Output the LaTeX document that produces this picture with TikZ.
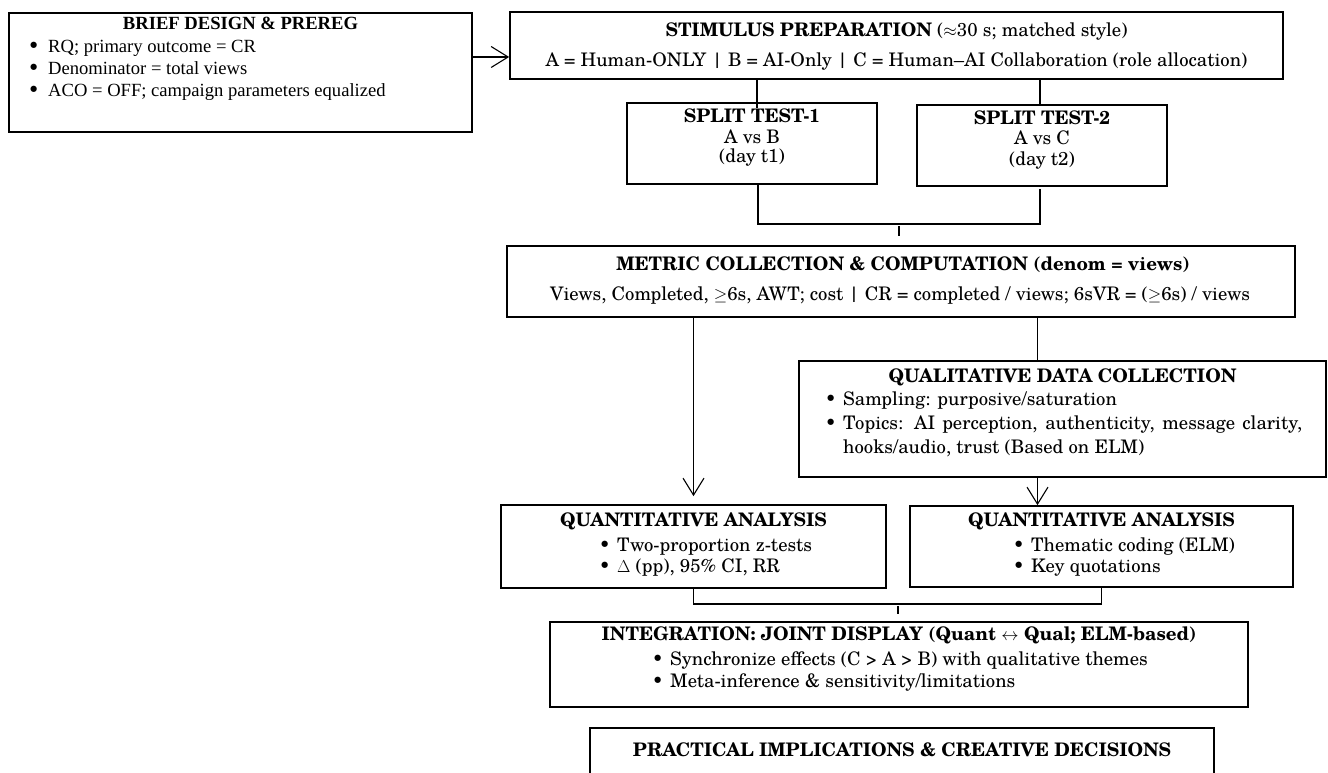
\documentclass[tikz,border=0pt]{standalone}
\usepackage{fontspec}
\setmainfont{texgyreschola}[Extension=.otf, UprightFont=*-regular, BoldFont=*-bold, ItalicFont=*-italic, BoldItalicFont=*-bolditalic]
\newfontfamily\timesf{Liberation Serif}
\usetikzlibrary{arrows.meta}
\newcommand{\mybul}{\makebox[18pt][l]{\textbullet}}
\newcommand{\tmbul}{\makebox[20pt][l]{\rmfamily\textbullet}}
\begin{document}
\begin{tikzpicture}[x=1pt,y=-1pt,
  box/.style={draw=black, line width=1.7pt, inner sep=0pt, minimum width=#1},
  txt/.style={inner sep=0pt, font=\fontsize{18.67}{22}\selectfont},
  tms/.style={inner sep=0pt, font=\timesf\fontsize{18.6}{22}\selectfont},
  conn/.style={draw=black, line width=1.1pt},
  arr/.style={conn, -{Straight Barb[length=17pt,width=21pt]}}]
\useasboundingbox (0,0) rectangle (1328,773);
\fill[white] (0,0) rectangle (1328,773);
\begin{scope}
\clip (0,0) rectangle (1328,773);
% boxes
\node[box=463pt, minimum height=119pt] (brief) at (240.5,72.5) {};
\node[box=773pt, minimum height=67pt] (stim) at (896.5,45.5) {};
\node[box=250pt, minimum height=81pt] (split1) at (752,143.5) {};
\node[box=250pt, minimum height=81pt] (split2) at (1042,145.5) {};
\node[box=788pt, minimum height=71pt] (metric) at (901,281.5) {};
\node[box=527pt, minimum height=116pt] (qual) at (1062.5,419) {};
\node[box=385pt, minimum height=83pt] (quantL) at (693.5,546.5) {};
\node[box=383pt, minimum height=81pt] (quantR) at (1101.5,546.5) {};
\node[box=698pt, minimum height=85pt] (integ) at (899,664.5) {};
\node[box=624pt, minimum height=72pt] (pract) at (902,764) {};
% texts
\node[tms, anchor=base] (b0) at (240.5,30) {\bfseries BRIEF DESIGN \& PREREG};
\node[tms, anchor=base west] (b1) at (28,53) {\tmbul RQ; primary outcome = CR};
\node[tms, anchor=base west] (b2) at (28,75) {\tmbul Denominator = total views};
\node[tms, anchor=base west] (b3) at (28,97) {\tmbul ACO = OFF; campaign parameters equalized};
\node[txt, anchor=base] (s0) at (896.5,37) {\textbf{STIMULUS PREPARATION} ($\approx$30 s; matched style)};
\node[txt, anchor=base] (s1) at (896.5,67) {A = Human-ONLY | B = AI-Only | C = Human--AI Collaboration (role allocation)};
\node[txt, anchor=base] (sp1a) at (752,123) {\textbf{SPLIT TEST-1}};
\node[txt, anchor=base] (sp1b) at (752,143) {A vs B};
\node[txt, anchor=base] (sp1c) at (752,163) {(day t1)};
\node[txt, anchor=base] (sp2a) at (1042,125) {\textbf{SPLIT TEST-2}};
\node[txt, anchor=base] (sp2b) at (1042,145) {A vs C};
\node[txt, anchor=base] (sp2c) at (1042,165) {(day t2)};
\node[txt, anchor=base] (m0) at (903,270) {\textbf{METRIC COLLECTION \& COMPUTATION (denom = views)}};
\node[txt, anchor=base] (m1) at (900,300) {Views, Completed, $\geq$6s, AWT; cost | CR = completed / views; 6sVR = ($\geq$6s) / views};
\node[txt, anchor=base] (q0) at (1062.5,382) {\textbf{QUALITATIVE DATA COLLECTION}};
\node[txt, anchor=base west] (q1) at (825,405) {\mybul Sampling: purposive/saturation};
\node[txt, anchor=base west] (q2) at (825,429) {\mybul\makebox[459pt][s]{Topics: AI perception, authenticity, message clarity,}};
\node[txt, anchor=base west] (q3) at (843,453) {hooks/audio, trust (Based on ELM)};
\node[txt, anchor=base] (l0) at (693.5,526) {\textbf{QUANTITATIVE ANALYSIS}};
\node[txt, anchor=base west] (l1) at (599,551) {\mybul Two-proportion z-tests};
\node[txt, anchor=base west] (l2) at (599,572) {\mybul $\Delta$ (pp), 95\% CI, RR};
\node[txt, anchor=base] (r0) at (1101.5,526) {\textbf{QUANTITATIVE ANALYSIS}};
\node[txt, anchor=base west] (r1) at (1013,551) {\mybul Thematic coding (ELM)};
\node[txt, anchor=base west] (r2) at (1013,572) {\mybul Key quotations};
\node[txt, anchor=base] (i0) at (899,640) {\textbf{INTEGRATION: JOINT DISPLAY (Quant $\leftrightarrow$ Qual; ELM-based)}};
\node[txt, anchor=base west] (i1) at (652,665) {\mybul Synchronize effects (C > A > B) with qualitative themes};
\node[txt, anchor=base west] (i2) at (652,687) {\mybul Meta-inference \& sensitivity/limitations};
\node[txt, anchor=base] (p0) at (902,756) {\textbf{PRACTICAL IMPLICATIONS \& CREATIVE DECISIONS}};
% connectors
\draw[arr] ([yshift=15.5pt]brief.east) -- ([yshift=15.5pt]brief.east -| stim.west);
\draw[conn] ([xshift=5pt]split1.north |- stim.south) -- ([xshift=5pt,yshift=-6pt]split1.north);
\draw[conn] ([xshift=-2pt]split2.north |- stim.south) -- ([xshift=-2pt]split2.north);
\coordinate (jm1) at (899,224);
\draw[conn] ([xshift=6pt]split1.south) |- (jm1) -| ([xshift=-2pt,yshift=-2pt]split2.south);
\draw[conn, shorten <=2pt, shorten >=9pt] (jm1) -- (jm1 |- metric.north);
\draw[arr, shorten >=8pt] (quantL.north |- metric.south) -- (quantL.north);
\draw[conn] ([xshift=-25pt]qual.north |- metric.south) -- ([xshift=-25pt]qual.north);
\draw[arr] ([xshift=-25pt]qual.south) -- ([xshift=-25pt]qual.south |- quantR.north);
\coordinate (jm2) at (898,604);
\draw[conn] (quantL.south) |- (jm2) -| (quantR.south);
\draw[conn, shorten <=2pt, shorten >=7pt] (jm2) -- (jm2 |- integ.north);
\end{scope}
\end{tikzpicture}
\end{document}
